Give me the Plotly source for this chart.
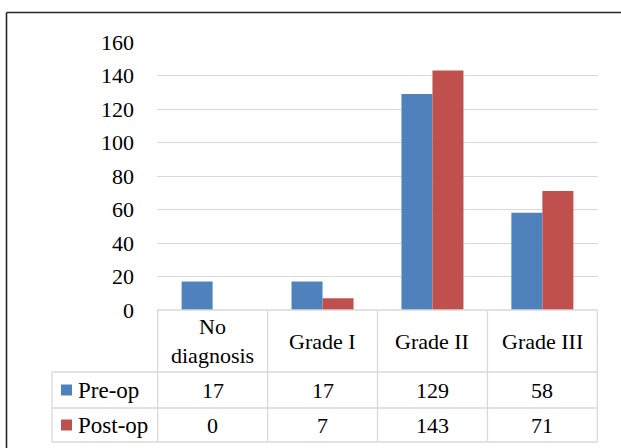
import plotly.graph_objects as go

categories = ["No diagnosis", "Grade I", "Grade II", "Grade III"]
header_labels = ["No<br>diagnosis", "Grade I", "Grade II", "Grade III"]
series_names = ["Pre-op", "Post-op"]
pre_op = [17, 17, 129, 58]
post_op = [0, 7, 143, 71]
series_values = [pre_op, post_op]
series_colors = ["#4F81BD", "#C0504D"]
y_ticks = [0, 20, 40, 60, 80, 100, 120, 140, 160]

W, H = 621, 448
L, R, T, B = 157, 598, 42, 310
FONT = "Liberation Serif"
GRID = "#d9d9d9"

def px_x(p):
    return (p - L) / (R - L)

def px_y(p):
    return (B - p) / (B - T)

fig = go.Figure()
for name, vals, col in zip(series_names, series_values, series_colors):
    fig.add_trace(go.Bar(x=categories, y=vals, name=name, marker=dict(color=col, line=dict(width=0)),
                         hoverinfo="skip"))

shapes = []
annotations = []

# outer frame (top and left edges visible)
shapes.append(dict(type="line", xref="paper", yref="paper", x0=px_x(6.5), x1=px_x(640), y0=px_y(12.5), y1=px_y(12.5),
                   line=dict(color="#262626", width=1.6)))
shapes.append(dict(type="line", xref="paper", yref="paper", x0=px_x(6.5), x1=px_x(6.5), y0=px_y(12.5), y1=px_y(470),
                   line=dict(color="#262626", width=1.6)))

# data table grid
row_tops = [310, 372, 408, 442]
for i, yy in enumerate(row_tops):
    x0 = px_x(157) if i == 0 else px_x(52)
    shapes.append(dict(type="line", xref="paper", yref="paper", x0=x0, x1=px_x(598), y0=px_y(yy), y1=px_y(yy),
                       line=dict(color=GRID, width=1.3)))
for k in range(len(categories) + 1):
    shapes.append(dict(type="line", xref="x", yref="paper", x0=k - 0.5, x1=k - 0.5, y0=px_y(310), y1=px_y(442),
                       line=dict(color=GRID, width=1.3)))
shapes.append(dict(type="line", xref="paper", yref="paper", x0=px_x(52), x1=px_x(52), y0=px_y(372), y1=px_y(442),
                   line=dict(color=GRID, width=1.3)))

# header labels
for i, lab in enumerate(header_labels):
    annotations.append(dict(x=categories[i], xref="x", y=px_y(341), yref="paper", text=lab, showarrow=False,
                            xanchor="center", yanchor="middle", font=dict(family=FONT, size=22, color="black")))

# series rows
row_centers = [390, 425]
for r, (name, vals, col) in enumerate(zip(series_names, series_values, series_colors)):
    yc = row_centers[r]
    shapes.append(dict(type="rect", xref="paper", yref="paper", x0=px_x(61), x1=px_x(72),
                       y0=px_y(yc - 5.5), y1=px_y(yc + 5.5), fillcolor=col, line=dict(width=0)))
    annotations.append(dict(x=px_x(76), xref="paper", y=px_y(yc), yref="paper", text=name, showarrow=False,
                            xanchor="left", yanchor="middle", font=dict(family=FONT, size=23, color="black")))
    for i, v in enumerate(vals):
        annotations.append(dict(x=categories[i], xref="x", y=px_y(yc), yref="paper", text=str(v), showarrow=False,
                                xanchor="center", yanchor="middle", font=dict(family=FONT, size=22, color="black")))

fig.update_layout(
    width=W, height=H,
    margin=dict(l=L, r=W - R, t=T, b=H - B, pad=0),
    paper_bgcolor="white", plot_bgcolor="white",
    barmode="group", bargap=0.436, bargroupgap=0,
    showlegend=False, hovermode=False,
    shapes=shapes, annotations=annotations,
    xaxis=dict(showticklabels=False, showgrid=False, zeroline=False, showline=False, ticks=""),
    yaxis=dict(range=[0, 160], tickvals=y_ticks, showgrid=True, gridcolor=GRID, gridwidth=1.3,
               zeroline=False, showline=False, ticks="", ticklabelstandoff=22,
               tickfont=dict(family=FONT, size=22, color="black")),
)

fig.write_html("out.html", config={"displayModeBar": False},
               post_script="document.body.style.margin='0px';")
